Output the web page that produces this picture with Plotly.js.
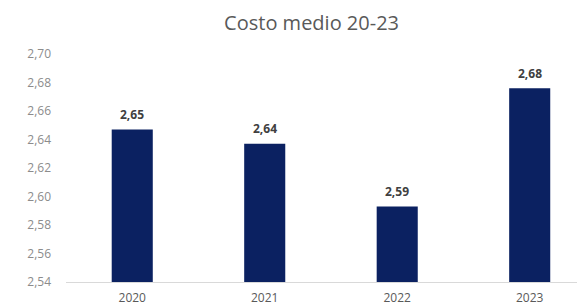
<!DOCTYPE html>
<html>
<head>
<meta charset="utf-8">
<script src="https://cdn.plot.ly/plotly-3.0.1.min.js"></script>
<style>html,body{margin:0;padding:0;background:#fff;}#chart{width:577px;height:307px;}</style>
</head>
<body>
<div id="chart"></div>
<script>
var years = ["2020", "2021", "2022", "2023"];
var costoMedio = [2.647, 2.637, 2.593, 2.676];
var yTicks = [2.54, 2.56, 2.58, 2.60, 2.62, 2.64, 2.66, 2.68, 2.70];

var trace = {
  type: "bar",
  x: years,
  y: costoMedio,
  width: 0.31,
  marker: {color: "#0b2161"},
  cliponaxis: false,
  hoverinfo: "skip"
};

var labels = years.map(function (yr, i) {
  return {
    x: i,
    y: costoMedio[i],
    xref: "x",
    yref: "y",
    text: "<b>" + costoMedio[i].toFixed(2).replace(".", ",") + "</b>",
    showarrow: false,
    yanchor: "middle",
    yshift: 15,
    font: {family: "Open Sans, sans-serif", size: 12, color: "#404040"}
  };
});

var layout = {
  width: 577,
  height: 307,
  separators: ",.",
  margin: {l: 66, r: 0, t: 54, b: 25},
  paper_bgcolor: "#ffffff",
  plot_bgcolor: "#ffffff",
  showlegend: false,
  annotations: labels,
  title: {
    text: "Costo medio 20-23",
    x: 0.54, xanchor: "center",
    y: 0.925, yanchor: "middle",
    font: {family: "Open Sans, sans-serif", size: 20, color: "#595959"}
  },
  xaxis: {
    type: "category",
    range: [-0.5, 3.357],
    showgrid: false,
    zeroline: false,
    showline: true,
    linecolor: "#d9d9d9",
    linewidth: 1,
    ticks: "",
    ticklabelstandoff: 5,
    tickfont: {family: "Open Sans, sans-serif", size: 12, color: "#595959"}
  },
  yaxis: {
    range: [2.54, 2.70],
    tickvals: yTicks,
    tickformat: ".2f",
    showgrid: false,
    zeroline: false,
    showline: false,
    ticks: "",
    ticklabelstandoff: 14,
    tickfont: {family: "Open Sans, sans-serif", size: 12, color: "#8c8c8c"}
  }
};

Plotly.newPlot("chart", [trace], layout, {displayModeBar: false, staticPlot: true});
</script>
</body>
</html>
